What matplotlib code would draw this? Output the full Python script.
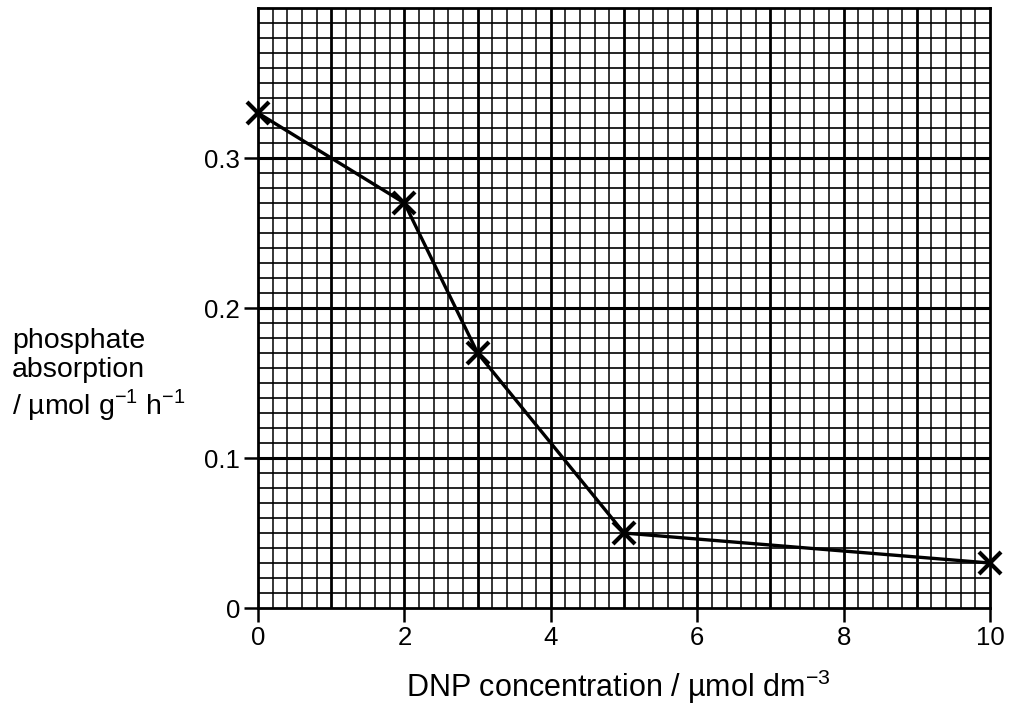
import numpy as np
import matplotlib.pyplot as plt

plt.rcParams['font.family'] = ['Liberation Sans', 'DejaVu Sans']
plt.rcParams['mathtext.fontset'] = 'custom'
plt.rcParams['mathtext.rm'] = 'Liberation Sans'

# data
dnp_conc = [0, 2, 3, 5, 10]
phosphate = [0.33, 0.27, 0.17, 0.05, 0.03]

x_ticks = [0, 2, 4, 6, 8, 10]
x_labels = ['0', '2', '4', '6', '8', '10']
y_ticks = [0, 0.1, 0.2, 0.3]
y_labels = ['0', '0.1', '0.2', '0.3']

fig = plt.figure(figsize=(10.09, 7.08), dpi=100)
ax = fig.add_axes([0.2557, 0.1412, 0.7255, 0.8475])

ax.set_xlim(0, 10)
ax.set_ylim(0, 0.4)

# graph paper grid
for xv in np.arange(0.2, 10, 0.2):
    major = abs(xv - round(xv)) < 1e-6
    ax.axvline(xv, color='black', lw=2.0 if major else 1.1, zorder=1)
for yv in np.arange(0.01, 0.4, 0.01):
    major = abs(yv * 10 - round(yv * 10)) < 1e-6
    ax.axhline(yv, color='black', lw=2.2 if major else 1.2, zorder=1)

ax.plot(dnp_conc, phosphate, color='black', lw=2.4, marker='x',
        markersize=16, markeredgewidth=3, zorder=3, clip_on=False)

for s in ax.spines.values():
    s.set_linewidth(2)

ax.set_xticks(x_ticks)
ax.set_xticklabels(x_labels)
ax.set_yticks(y_ticks)
ax.set_yticklabels(y_labels)
ax.tick_params(axis='both', labelsize=18.5, length=10, width=1.8, pad=3)

fig.text(0.6125, 0.0155, 'DNP concentration / \u00b5mol dm$^{-3}$',
         fontsize=22, ha='center', va='baseline')
fig.text(0.012, 0.47, 'phosphate\nabsorption\n/ \u00b5mol g$^{-1}$ h$^{-1}$',
         fontsize=20.5, ha='left', va='center', linespacing=1.15)

fig.savefig('out.png', dpi=100)
